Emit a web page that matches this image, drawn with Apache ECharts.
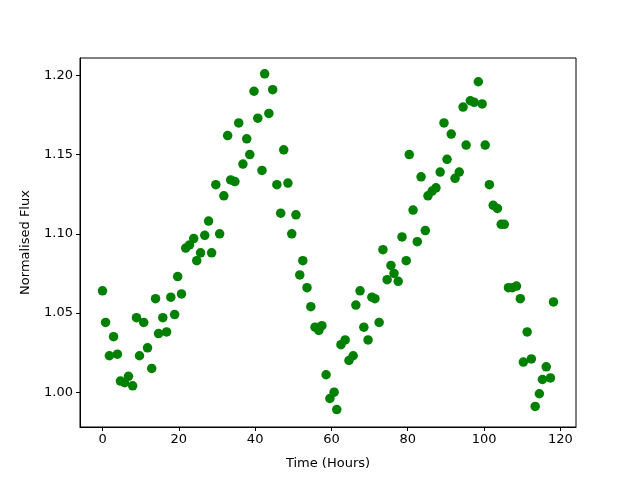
<!DOCTYPE html>
<html><head><meta charset="utf-8">
<script src="https://cdn.jsdelivr.net/npm/echarts@6/dist/echarts.min.js"></script>
<style>html,body{margin:0;padding:0;background:#fff}#c{width:640px;height:480px}</style>
</head><body><div id="c"></div>
<script>
const timeHours = [0,0.8,1.8,2.9,3.9,4.7,5.8,6.8,7.9,8.9,9.7,10.8,11.8,12.9,13.9,14.7,15.8,16.8,17.9,18.9,19.7,20.7,21.8,22.8,23.9,24.7,25.7,26.8,27.8,28.6,29.7,30.7,31.8,32.8,33.6,34.7,35.7,36.8,37.8,38.6,39.7,40.7,41.8,42.5,43.6,44.6,45.7,46.7,47.5,48.6,49.6,50.7,51.7,52.5,53.6,54.6,55.7,56.7,57.5,58.6,59.6,60.7,61.4,62.5,63.6,64.6,65.7,66.4,67.5,68.5,69.6,70.6,71.4,72.5,73.5,74.6,75.6,76.4,77.5,78.5,79.6,80.4,81.4,82.5,83.5,84.6,85.3,86.4,87.4,88.5,89.5,90.3,91.4,92.4,93.5,94.5,95.3,96.4,97.4,98.5,99.5,100.3,101.4,102.4,103.5,104.5,105.3,106.4,107.4,108.5,109.5,110.3,111.3,112.4,113.4,114.5,115.3,116.3,117.4,118.2];
const normFlux = [1.064,1.044,1.023,1.035,1.024,1.007,1.006,1.010,1.004,1.047,1.023,1.044,1.028,1.015,1.059,1.037,1.047,1.038,1.060,1.049,1.073,1.062,1.091,1.093,1.097,1.083,1.088,1.099,1.108,1.088,1.131,1.100,1.124,1.162,1.134,1.133,1.170,1.144,1.160,1.150,1.190,1.173,1.140,1.201,1.176,1.191,1.131,1.113,1.153,1.132,1.100,1.112,1.074,1.083,1.066,1.054,1.041,1.039,1.042,1.011,0.996,1.000,0.989,1.030,1.033,1.020,1.023,1.055,1.064,1.041,1.033,1.060,1.059,1.044,1.090,1.071,1.080,1.075,1.070,1.098,1.083,1.150,1.115,1.095,1.136,1.102,1.124,1.127,1.129,1.139,1.170,1.147,1.163,1.135,1.139,1.180,1.156,1.184,1.183,1.196,1.182,1.156,1.131,1.118,1.116,1.106,1.106,1.066,1.066,1.067,1.059,1.019,1.038,1.021,0.991,0.999,1.008,1.016,1.009,1.057];
const xTicks = [0,20,40,60,80,100,120];
const yTicks = [1.00,1.05,1.10,1.15,1.20];

const pts = timeHours.map((t,i)=>[t,normFlux[i]]);
const chart = echarts.init(document.getElementById('c'), null, {renderer:'canvas'});
const font = 'DejaVu Sans';
chart.setOption({
  animation:false,
  backgroundColor:'#fff',
  grid:{left:80,top:58,width:496,height:369,show:true,borderColor:'#000',borderWidth:1,backgroundColor:'transparent'},
  xAxis:{type:'value',min:-5.9,max:124.1,
    name:'Time (Hours)',nameLocation:'middle',nameGap:30,
    nameTextStyle:{fontFamily:font,fontSize:13,color:'#000'},
    axisLine:{show:true,onZero:false,lineStyle:{color:'#000',width:1}},
    axisTick:{show:true,length:4,inside:false,customValues:xTicks,lineStyle:{color:'#000'}},
    axisLabel:{customValues:xTicks,fontFamily:font,fontSize:13,color:'#000',margin:6,formatter:v=>String(Math.round(v))},
    splitLine:{show:false}},
  yAxis:{type:'value',min:0.978,max:1.211,
    name:'Normalised Flux',nameLocation:'middle',nameGap:48,nameRotate:90,
    nameTextStyle:{fontFamily:font,fontSize:13,color:'#000'},
    axisLine:{show:true,onZero:false,lineStyle:{color:'#000',width:1}},
    axisTick:{show:true,length:4,inside:false,customValues:yTicks,lineStyle:{color:'#000'}},
    axisLabel:{customValues:yTicks,fontFamily:font,fontSize:13,color:'#000',margin:7,formatter:v=>v.toFixed(2)},
    splitLine:{show:false}},
  series:[{type:'scatter',data:pts,symbol:'circle',symbolSize:9.5,
    itemStyle:{color:'#008000',opacity:1},emphasis:{disabled:true}}]
});
</script></body></html>
